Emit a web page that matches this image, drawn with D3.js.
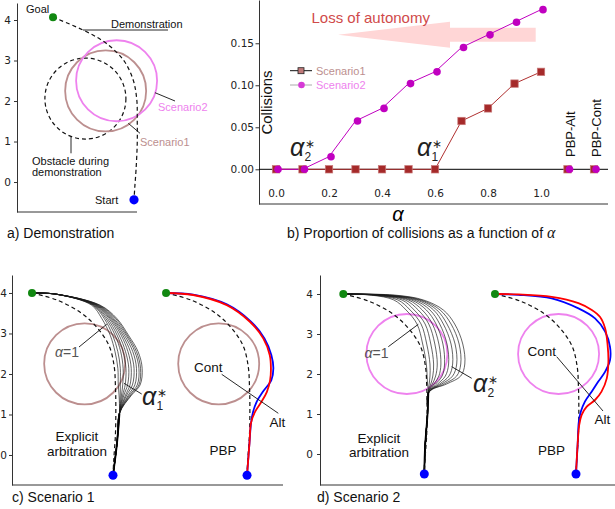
<!DOCTYPE html>
<html>
<head>
<meta charset="utf-8">
<script src="https://cdn.jsdelivr.net/npm/d3@7"></script>
<style>
  body { margin: 0; background: #fff; }
  svg text { font-family: "Liberation Sans", Arial, sans-serif; }
  .tick text { font-family: "DejaVu Sans", sans-serif; font-size: 10.5px; fill: #222; }
  .tick line, .domain { stroke: #333; }
</style>
</head>
<body>
<svg id="fig" width="615" height="509"></svg>
<script>
// ---- panel b: collisions vs alpha
var alphas = [ 0, 0.1, 0.2, 0.3, 0.4, 0.5, 0.6, 0.7, 0.8, 0.9, 1.0 ];
var scen1Coll = [ 0, 0, 0, 0, 0, 0, 0, 0.0575, 0.0725, 0.102, 0.116 ];
var scen2Coll = [ 0, 0, 0.015, 0.0575, 0.0725, 0.102, 0.116, 0.145, 0.16, 0.175, 0.19 ];
var pbpNames = [ 'PBP-Alt', 'PBP-Cont' ];
var pbpAlpha = [ 1.1, 1.2 ];
var pbpScen1 = [ 0, 0 ];
var pbpScen2 = [ 0, 0 ];
var collTicks = [ 0, 0.05, 0.10, 0.15 ];
var alphaTicks = [ 0, 0.2, 0.4, 0.6, 0.8, 1.0 ];
var trajTicks = [ 0, 1, 2, 3, 4 ];

// ---- panel a: demonstration
var demoPathA = [ [0,4.07],[0.83,3.71],[1.32,3.42],[1.74,3.01],[1.98,2.52],[2.07,2.02],[2.08,1.53],[2.08,0.96],[2.05,0.3],[2.02,-0.12],[2.0,-0.44] ];
var goalA = [ 0, 4.07 ];
var startA = [ 2.0, -0.44 ];
var obstacleDemo = { x: 0.8, y: 2.06, r: 1.0 };
var obstacle1 = { x: 1.3, y: 2.25, r: 1.0 };
var obstacle2 = { x: 1.57, y: 2.5, r: 1.0 };

// ---- panels c, d: trajectories
var goal = [ 0, 4 ];
var start = [ 2.0, -0.5 ];
var demoPath = [ [0,4],[0.63,3.82],[1.21,3.51],[1.62,3.13],[1.91,2.68],[2.03,2.18],[2.06,1.7],[2.07,1.2],[2.06,0.5],[2.02,-0.1],[2.0,-0.5] ];

// explicit arbitration, scenario 1: x of each curve at these heights
var fanLevels1 = [ 3.97, 3.7, 3.375, 2.96, 2.55, 2.14, 1.73, 1.48, 1.03 ];
var fanX1 = [
  [0.6, 1.47, 1.72, 1.93, 2.05, 2.12, 2.13, 2.15, 2.16],
  [0.6, 1.50, 1.78, 1.99, 2.12, 2.18, 2.18, 2.18, 2.16],
  [0.6, 1.52, 1.82, 2.05, 2.19, 2.25, 2.24, 2.21, 2.16],
  [0.6, 1.54, 1.86, 2.10, 2.25, 2.32, 2.30, 2.24, 2.16],
  [0.6, 1.56, 1.90, 2.15, 2.31, 2.39, 2.36, 2.27, 2.16],
  [0.6, 1.58, 1.93, 2.20, 2.37, 2.45, 2.42, 2.31, 2.16],
  [0.6, 1.60, 1.96, 2.24, 2.43, 2.52, 2.48, 2.34, 2.16],
  [0.6, 1.62, 1.99, 2.28, 2.49, 2.58, 2.54, 2.38, 2.16],
  [0.6, 1.64, 2.02, 2.32, 2.54, 2.64, 2.60, 2.41, 2.16],
  [0.6, 1.66, 2.06, 2.35, 2.58, 2.68, 2.64, 2.44, 2.16],
  [0.6, 1.68, 2.09, 2.38, 2.62, 2.72, 2.67, 2.46, 2.16]
];
var fanTail1 = [ [2.16,1.03],[2.1,0.3],[2.0,-0.5] ];

// explicit arbitration, scenario 2
var fanLevels2 = [ 3.97, 3.85, 3.6, 3.25, 2.75, 2.25, 1.95, 1.75, 1.55 ];
var fanX2 = [
  [0.70, 1.25, 1.55, 1.82, 1.96, 2.05, 2.07, 2.08, 2.10],
  [0.75, 1.35, 1.65, 1.92, 2.06, 2.14, 2.14, 2.12, 2.10],
  [0.80, 1.45, 1.75, 2.02, 2.16, 2.23, 2.21, 2.16, 2.10],
  [0.85, 1.53, 1.85, 2.11, 2.26, 2.32, 2.28, 2.20, 2.10],
  [0.90, 1.61, 1.95, 2.20, 2.36, 2.41, 2.36, 2.24, 2.10],
  [0.95, 1.68, 2.05, 2.29, 2.46, 2.50, 2.44, 2.28, 2.10],
  [1.00, 1.75, 2.14, 2.38, 2.56, 2.60, 2.52, 2.33, 2.11],
  [1.05, 1.82, 2.23, 2.47, 2.66, 2.70, 2.61, 2.38, 2.11],
  [1.10, 1.88, 2.31, 2.56, 2.76, 2.80, 2.70, 2.43, 2.11],
  [1.20, 1.93, 2.39, 2.66, 2.86, 2.90, 2.80, 2.49, 2.12],
  [1.30, 1.98, 2.47, 2.75, 2.95, 3.00, 2.90, 2.55, 2.12]
];
var fanTail2 = [ [2.1,1.55],[2.08,1.0],[2.02,0.2],[2.0,-0.5] ];

// PBP trajectories (blue = Cont, red = Alt)
var pbpCont1 = [ [0,4],[0.67,3.96],[1.5,3.72],[2.09,3.3],[2.43,2.88],[2.6,2.47],[2.65,2.14],[2.6,1.85],[2.39,1.56],[2.24,1.32],[2.15,1.07],[2.1,0.8],[2.06,0.3],[2.0,-0.5] ];
var pbpAlt1 = [ [0,4],[0.67,3.95],[1.5,3.7],[2.07,3.29],[2.4,2.88],[2.56,2.47],[2.59,2.14],[2.57,1.85],[2.49,1.56],[2.36,1.32],[2.2,1.07],[2.1,0.8],[2.06,0.3],[2.0,-0.5] ];
var pbpCont2 = [ [0,4],[0.58,3.98],[1.4,3.89],[2.06,3.64],[2.47,3.39],[2.72,3.06],[2.84,2.68],[2.84,2.35],[2.72,2.06],[2.55,1.81],[2.39,1.56],[2.22,1.31],[2.12,1.06],[2.07,0.81],[2.04,0.23],[2.0,-0.5] ];
var pbpAlt2 = [ [0,4],[0.58,3.99],[1.4,3.93],[2.06,3.77],[2.39,3.6],[2.59,3.43],[2.72,3.14],[2.78,2.73],[2.8,2.31],[2.76,1.89],[2.63,1.56],[2.47,1.35],[2.26,1.18],[2.14,0.98],[2.08,0.73],[2.04,0.23],[2.0,-0.5] ];

var col1 = 'rosybrown';
var col2 = 'violet';
var serif = '"Liberation Serif", "Times New Roman", serif';

var svg = d3.select('#fig');

function lineGen(xs, ys) {
  return d3.line()
    .x(function(d) { return xs(d[0]); })
    .y(function(d) { return ys(d[1]); })
    .curve(d3.curveCatmullRom.alpha(0.5));
}

function label(g, x, y, txt, size, color, anchor) {
  return g.append('text')
    .attr('x', x).attr('y', y)
    .attr('font-size', size + 'px')
    .attr('fill', color || '#111')
    .attr('text-anchor', anchor || 'start')
    .text(txt);
}

function pointer(g, x1, y1, x2, y2) {
  g.append('line')
    .attr('x1', x1).attr('y1', y1).attr('x2', x2).attr('y2', y2)
    .attr('stroke', '#111').attr('stroke-width', 0.9);
}

// alpha with a star above and an index below
function alphaStar(g, x, y, sub, size) {
  g.append('text').attr('x', x).attr('y', y)
    .attr('font-family', serif).attr('font-style', 'italic')
    .attr('font-size', size + 'px').attr('fill', '#222').text('α');
  g.append('text').attr('x', x + size * 0.6).attr('y', y - size * 0.34)
    .attr('font-family', '"DejaVu Sans", sans-serif')
    .attr('font-size', (size * 0.46) + 'px').attr('fill', '#222').text('∗');
  g.append('text').attr('x', x + size * 0.58).attr('y', y + size * 0.18)
    .attr('font-family', serif)
    .attr('font-size', (size * 0.48) + 'px').attr('fill', '#222').text(sub);
}

function trajAxes(g, xs, ys, pad) {
  g.append('g')
    .attr('transform', 'translate(' + xs.range()[0] + ',0)')
    .call(d3.axisLeft(ys).tickValues(trajTicks).tickFormat(d3.format('d'))
      .tickSize(3).tickPadding(pad).tickSizeOuter(0));
  g.append('line')
    .attr('x1', xs.range()[0]).attr('x2', xs.range()[1])
    .attr('y1', ys.range()[0]).attr('y2', ys.range()[0])
    .attr('stroke', '#333');
}

function circle(g, xs, ys, c, color, dashed) {
  g.append('ellipse')
    .attr('cx', xs(c.x)).attr('cy', ys(c.y))
    .attr('rx', xs(c.r) - xs(0)).attr('ry', ys(0) - ys(c.r))
    .attr('fill', 'none').attr('stroke', color)
    .attr('stroke-width', dashed ? 1.2 : 1.8)
    .attr('stroke-dasharray', dashed ? '4,3' : null);
}

function dot(g, xs, ys, p, color, r) {
  g.append('circle').attr('cx', xs(p[0])).attr('cy', ys(p[1])).attr('r', r).attr('fill', color);
}

function shift(path, dx) {
  return path.map(function(p) { return [ p[0] + dx, p[1] ]; });
}

// ================= a) Demonstration =================
(function() {
  var g = svg.append('g');
  var xs = d3.scaleLinear().domain([ -0.889, 2.074 ]).range([ 17, 137 ]);
  var ys = d3.scaleLinear().domain([ -0.74, 4.42 ]).range([ 212, 3 ]);
  trajAxes(g, xs, ys, 3);

  circle(g, xs, ys, obstacleDemo, '#111', true);
  circle(g, xs, ys, obstacle1, col1, false);
  circle(g, xs, ys, obstacle2, col2, false);

  g.append('path').datum(demoPathA).attr('d', lineGen(xs, ys))
    .attr('fill', 'none').attr('stroke', '#111').attr('stroke-width', 1.2)
    .attr('stroke-dasharray', '4,3');

  dot(g, xs, ys, goalA, '#118811', 4);
  dot(g, xs, ys, startA, '#0000ff', 4.6);

  label(g, 26, 13, 'Goal', 11);
  label(g, 95, 204, 'Start', 11);
  label(g, 111, 28, 'Demonstration', 11);
  pointer(g, 83, 30, 168, 30);
  label(g, 158, 110.5, 'Scenario2', 11, col2);
  pointer(g, 155, 92.7, 175, 101);
  label(g, 140, 145.5, 'Scenario1', 11, col1);
  pointer(g, 128.3, 123.3, 140, 133.3);
  label(g, 32, 164.5, 'Obstacle during', 11);
  label(g, 32, 175.5, 'demonstration', 11);
  pointer(g, 71, 136.7, 71, 153.3);

  label(g, 7, 238, 'a) Demonstration', 14);
})();

// ================= b) Collisions =================
(function() {
  var g = svg.append('g');
  var xs = d3.scaleLinear().domain([ -0.0642, 1.2528 ]).range([ 259, 608 ]);
  var ys = d3.scaleLinear().domain([ -0.0413, 0.2015 ]).range([ 204, 0 ]);

  g.append('g')
    .attr('transform', 'translate(259,0)')
    .call(d3.axisLeft(ys).tickValues(collTicks).tickFormat(d3.format('.2f'))
      .tickSize(3.5).tickPadding(1.5).tickSizeOuter(0));
  g.append('line').attr('x1', 259).attr('x2', 608).attr('y1', 204).attr('y2', 204).attr('stroke', '#333');

  var xAxis = g.append('g')
    .attr('transform', 'translate(0,187)')
    .call(d3.axisBottom(xs).tickValues(alphaTicks).tickFormat(d3.format('.1f'))
      .tickSize(0).tickPadding(3));
  xAxis.select('.domain').remove();

  // zero line
  g.append('line').attr('x1', 259).attr('x2', 608)
    .attr('y1', ys(0)).attr('y2', ys(0)).attr('stroke', '#000').attr('stroke-width', 1);

  // loss of autonomy arrow
  var ay = ys(0.16), tail = xs(0.98), tip = xs(0.234), base = 450;
  g.append('path')
    .attr('d', 'M' + tail + ',' + (ay - 7) + 'L' + base + ',' + (ay - 7) + 'L' + base + ',' + (ay - 13) +
      'L' + tip + ',' + ay + 'L' + base + ',' + (ay + 13) + 'L' + base + ',' + (ay + 7) +
      'L' + tail + ',' + (ay + 7) + 'Z')
    .attr('fill', '#ffd6d6');
  label(g, 311.5, 22.5, 'Loss of autonomy', 15, '#d04a4a');

  var s1 = alphas.map(function(a, i) { return [ a, scen1Coll[i] ]; });
  var s2 = alphas.map(function(a, i) { return [ a, scen2Coll[i] ]; });
  var line = d3.line().x(function(d) { return xs(d[0]); }).y(function(d) { return ys(d[1]); });

  g.append('path').datum(s1).attr('d', line).attr('fill', 'none').attr('stroke', '#b03030').attr('stroke-width', 1);
  g.append('path').datum(s2).attr('d', line).attr('fill', 'none').attr('stroke', '#c000c0').attr('stroke-width', 1);

  var sq = s1.concat(pbpAlpha.map(function(a, i) { return [ a, pbpScen1[i] ]; }));
  g.selectAll('.sq').data(sq).enter().append('rect')
    .attr('x', function(d) { return xs(d[0]) - 3.7; })
    .attr('y', function(d) { return ys(d[1]) - 3.7; })
    .attr('width', 7.4).attr('height', 7.4)
    .attr('fill', '#a52a2a').attr('stroke', '#c87878').attr('stroke-width', 0.7);

  var ci = s2.concat(pbpAlpha.map(function(a, i) { return [ a, pbpScen2[i] ]; }));
  g.selectAll('.ci').data(ci).enter().append('circle')
    .attr('cx', function(d) { return xs(d[0]) + 2; })
    .attr('cy', function(d) { return ys(d[1]); })
    .attr('r', 3.8).attr('fill', '#c000c0');

  // PBP labels
  pbpNames.forEach(function(n, i) {
    var x = xs(pbpAlpha[i]) + 7;
    g.append('text').attr('transform', 'translate(' + x + ',157) rotate(-90)')
      .attr('font-size', '13px').attr('fill', '#111').text(n);
  });

  g.append('text').attr('transform', 'translate(272,102.5) rotate(-90)')
    .attr('text-anchor', 'middle').attr('font-size', '15px').attr('fill', '#111').text('Collisions');

  // legend
  g.append('line').attr('x1', 290).attr('x2', 312).attr('y1', 70.7).attr('y2', 70.7).attr('stroke', '#111');
  g.append('rect').attr('x', 298).attr('y', 67.7).attr('width', 6).attr('height', 6)
    .attr('fill', '#c07a7a').attr('stroke', '#222').attr('stroke-width', 0.8);
  label(g, 316, 74.5, 'Scenario1', 11, col1);
  g.append('line').attr('x1', 290).attr('x2', 312).attr('y1', 85).attr('y2', 85).attr('stroke', '#aaa');
  g.append('circle').attr('cx', 301.5).attr('cy', 85).attr('r', 3.3).attr('fill', '#d63ad6');
  label(g, 316, 89, 'Scenario2', 11, col2);

  alphaStar(g, 290, 156, '2', 25);
  alphaStar(g, 417, 156, '1', 25);

  g.append('text').attr('x', 398).attr('y', 221).attr('text-anchor', 'middle')
    .attr('font-family', serif).attr('font-style', 'italic').attr('font-size', '20px').text('α');

  var t = label(g, 287, 238, 'b) Proportion of collisions as a function of ', 14);
  t.append('tspan').attr('font-family', serif).attr('font-style', 'italic').attr('font-size', '16px').text('α');
})();

// ================= c), d) trajectories =================
function trajPanel(cfg) {
  var g = svg.append('g');
  var xs = cfg.xs, ys = cfg.ys;
  trajAxes(g, xs, ys, cfg.pad);
  var lg = lineGen(xs, ys);

  // left: explicit arbitration
  circle(g, xs, ys, cfg.obstacle, cfg.color, false);
  cfg.fanX.forEach(function(xv) {
    var pts = [ goal ].concat(cfg.levels.map(function(y, i) { return [ xv[i], y ]; }), cfg.tail.slice(1));
    g.append('path').datum(pts).attr('d', lg)
      .attr('fill', 'none').attr('stroke', '#1a1a1a').attr('stroke-width', 0.9).attr('stroke-opacity', 0.75);
  });
  g.append('path').datum(cfg.tail).attr('d', lg)
    .attr('fill', 'none').attr('stroke', '#000').attr('stroke-width', 1.8);
  g.append('path').datum(demoPath).attr('d', lg)
    .attr('fill', 'none').attr('stroke', '#111').attr('stroke-width', 1.2).attr('stroke-dasharray', '4,3');
  dot(g, xs, ys, goal, '#118811', 4);
  dot(g, xs, ys, start, '#0000ff', 4.5);

  // right: PBP
  var off = cfg.offset;
  circle(g, xs, ys, { x: cfg.obstacle.x + off, y: cfg.obstacle.y, r: cfg.obstacle.r }, cfg.color, false);
  g.append('path').datum(shift(demoPath, off)).attr('d', lg)
    .attr('fill', 'none').attr('stroke', '#111').attr('stroke-width', 1.2).attr('stroke-dasharray', '4,3');
  g.append('path').datum(shift(cfg.cont, off)).attr('d', lg)
    .attr('fill', 'none').attr('stroke', '#0000ff').attr('stroke-width', 1.8);
  g.append('path').datum(shift(cfg.alt, off)).attr('d', lg)
    .attr('fill', 'none').attr('stroke', '#ff0000').attr('stroke-width', 1.8);
  dot(g, xs, ys, [ goal[0] + off, goal[1] ], '#118811', 4);
  dot(g, xs, ys, [ start[0] + off, start[1] ], '#0000ff', 4.5);

  cfg.annotate(g);
  return g;
}

trajPanel({
  xs: d3.scaleLinear().domain([ -0.494, 6.198 ]).range([ 12, 283 ]),
  ys: d3.scaleLinear().domain([ -0.741, 4.444 ]).range([ 485, 275 ]),
  pad: 2,
  obstacle: obstacle1, color: col1,
  levels: fanLevels1, fanX: fanX1, tail: fanTail1,
  offset: 3.31, cont: pbpCont1, alt: pbpAlt1,
  annotate: function(g) {
    var t = g.append('text').attr('x', 55).attr('y', 357).attr('font-family', serif)
      .attr('font-size', '14px').attr('fill', '#555');
    t.append('tspan').attr('font-style', 'italic').text('α');
    t.append('tspan').text('=1');
    pointer(g, 79, 347, 106.7, 324.3);
    alphaStar(g, 142, 405, '1', 25);
    pointer(g, 124, 383.3, 141.7, 394);
    label(g, 77, 441, 'Explicit', 13.5, '#111', 'middle');
    label(g, 77, 455.5, 'arbitration', 13.5, '#111', 'middle');
    label(g, 194, 372, 'Cont', 13.5);
    pointer(g, 221.7, 374.3, 278.3, 413.3);
    label(g, 269.5, 426.5, 'Alt', 13.5);
    label(g, 209.5, 455, 'PBP', 13.5);
    label(g, 12, 502, 'c) Scenario 1', 14);
  }
});

trajPanel({
  xs: d3.scaleLinear().domain([ -0.575, 6.708 ]).range([ 320, 615 ]),
  ys: d3.scaleLinear().domain([ -0.775, 4.475 ]).range([ 485, 275 ]),
  pad: 4,
  obstacle: obstacle2, color: col2,
  levels: fanLevels2, fanX: fanX2, tail: fanTail2,
  offset: 3.745, cont: pbpCont2, alt: pbpAlt2,
  annotate: function(g) {
    var t = g.append('text').attr('x', 364.5).attr('y', 358).attr('font-family', serif)
      .attr('font-size', '14px').attr('fill', '#555');
    t.append('tspan').attr('font-style', 'italic').text('α');
    t.append('tspan').text('=1');
    pointer(g, 388.3, 346.7, 418.3, 324.3);
    alphaStar(g, 473, 392, '2', 25);
    pointer(g, 451.7, 366.7, 471.7, 378.3);
    label(g, 379, 442.5, 'Explicit', 13.5, '#111', 'middle');
    label(g, 379, 457, 'arbitration', 13.5, '#111', 'middle');
    label(g, 527.5, 356, 'Cont', 13.5);
    pointer(g, 556.7, 356.7, 603, 411);
    label(g, 594.5, 424, 'Alt', 13.5);
    label(g, 538, 455, 'PBP', 13.5);
    label(g, 317, 502, 'd) Scenario 2', 14);
  }
});
</script>
</body>
</html>
